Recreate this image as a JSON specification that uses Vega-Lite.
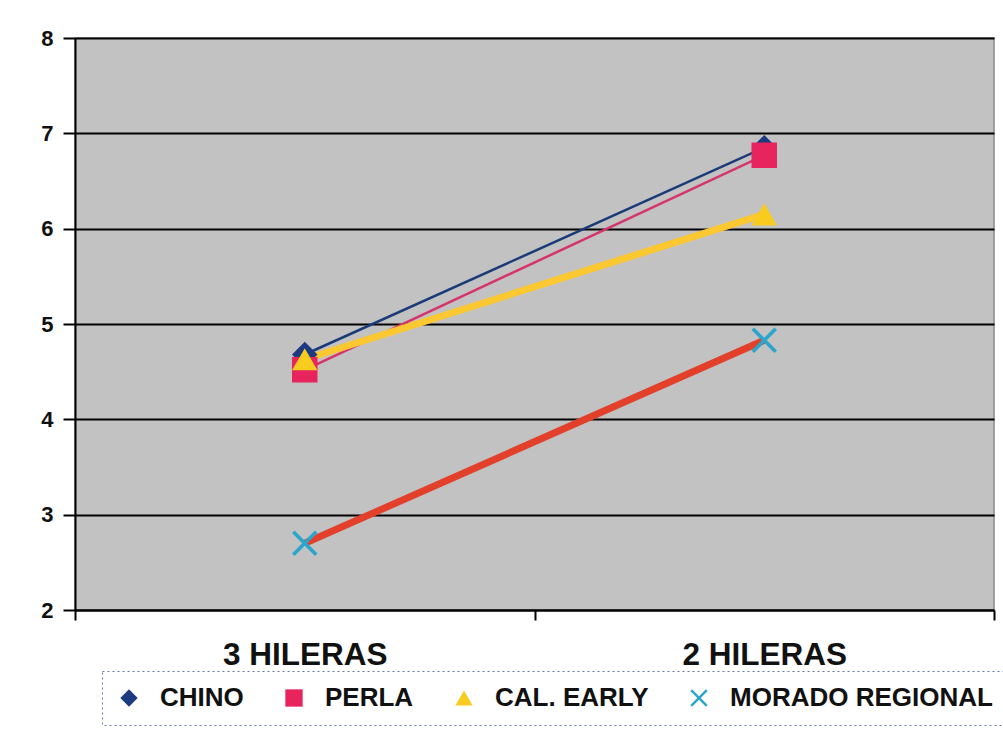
{
  "$schema": "https://vega.github.io/schema/vega-lite/v6.json",
  "width": 919,
  "height": 572,
  "autosize": {"type": "none"},
  "padding": {"left": 75, "top": 38, "right": 9, "bottom": 119},
  "background": "white",
  "config": {
    "view": {"fill": "#c2c2c2", "stroke": "#8a8a8a", "strokeWidth": 1.5},
    "font": "Liberation Sans",
    "legend": {"strokeDash": [2, 3], "symbolStrokeWidth": 0}
  },
  "data": {
    "values": [
      {"serie": "CHINO", "hileras": "3 HILERAS", "valor": 4.68},
      {"serie": "CHINO", "hileras": "2 HILERAS", "valor": 6.85},
      {"serie": "PERLA", "hileras": "3 HILERAS", "valor": 4.52},
      {"serie": "PERLA", "hileras": "2 HILERAS", "valor": 6.77},
      {"serie": "CAL. EARLY", "hileras": "3 HILERAS", "valor": 4.63},
      {"serie": "CAL. EARLY", "hileras": "2 HILERAS", "valor": 6.15},
      {"serie": "MORADO REGIONAL", "hileras": "3 HILERAS", "valor": 2.7},
      {"serie": "MORADO REGIONAL", "hileras": "2 HILERAS", "valor": 4.83}
    ]
  },
  "encoding": {
    "x": {
      "field": "hileras",
      "type": "nominal",
      "sort": ["3 HILERAS", "2 HILERAS"],
      "title": null,
      "axis": {
        "labelAngle": 0,
        "labelFontSize": 31.5,
        "labelFontWeight": "bold",
        "labelColor": "#111111",
        "labelPadding": 19,
        "tickSize": 10,
        "tickBand": "extent",
        "tickColor": "black",
        "tickWidth": 2,
        "domainColor": "black",
        "domainWidth": 2,
        "grid": false
      }
    },
    "y": {
      "field": "valor",
      "type": "quantitative",
      "scale": {"domain": [2, 8], "nice": false},
      "title": null,
      "axis": {
        "values": [2, 3, 4, 5, 6, 7, 8],
        "labelFontSize": 22,
        "labelFontWeight": "bold",
        "labelColor": "#111111",
        "labelPadding": 10,
        "tickSize": 12,
        "tickColor": "black",
        "tickWidth": 2,
        "domainColor": "black",
        "domainWidth": 2,
        "grid": true,
        "gridColor": "black",
        "gridWidth": 2
      }
    }
  },
  "layer": [
    {
      "transform": [{"filter": {"field": "serie", "oneOf": ["CHINO", "PERLA"]}}],
      "mark": {"type": "line", "strokeWidth": 2.5},
      "encoding": {
        "stroke": {
          "field": "serie",
          "type": "nominal",
          "scale": {
            "domain": ["CHINO", "PERLA", "CAL. EARLY", "MORADO REGIONAL"],
            "range": ["#1a3a78", "#d6336b", "#fbc832", "#e2402a"]
          },
          "legend": {
            "title": null,
            "orient": "none",
            "legendX": 27,
            "legendY": 633,
            "direction": "horizontal",
            "labelFontSize": 26,
            "labelFontWeight": "bold",
            "labelColor": "#111111",
            "labelLimit": 400,
            "labelOffset": 18,
            "symbolSize": 300,
            "columnPadding": 37,
            "padding": 14,
            "strokeColor": "#6677aa"
          }
        }
      }
    },
    {
      "transform": [{"filter": {"field": "serie", "oneOf": ["CAL. EARLY", "MORADO REGIONAL"]}}],
      "mark": {"type": "line", "strokeWidth": 7},
      "encoding": {
        "stroke": {
          "field": "serie",
          "type": "nominal"
        }
      }
    },
    {
      "mark": {"type": "point", "filled": true, "size": 650, "opacity": 1, "strokeWidth": 0},
      "encoding": {
        "fill": {
          "field": "serie",
          "type": "nominal",
          "scale": {
            "domain": ["CHINO", "PERLA", "CAL. EARLY", "MORADO REGIONAL"],
            "range": ["#1c3a80", "#e8245e", "#f7cc1f", "#2aa6cc"]
          },
          "legend": {
            "title": null,
            "orient": "none",
            "legendX": 27,
            "legendY": 633,
            "direction": "horizontal",
            "labelFontSize": 26,
            "labelFontWeight": "bold",
            "labelColor": "#111111",
            "labelLimit": 400,
            "labelOffset": 18,
            "symbolSize": 300,
            "columnPadding": 37,
            "padding": 14,
            "strokeColor": "#6677aa"
          }
        },
        "shape": {
          "field": "serie",
          "type": "nominal",
          "scale": {
            "domain": ["CHINO", "PERLA", "CAL. EARLY", "MORADO REGIONAL"],
            "range": ["diamond", "square", "triangle-up", "M-1,-0.8L-0.8,-1L0,-0.2L0.8,-1L1,-0.8L0.2,0L1,0.8L0.8,1L0,0.2L-0.8,1L-1,0.8L-0.2,0Z"]
          },
          "legend": {
            "title": null,
            "orient": "none",
            "legendX": 27,
            "legendY": 633,
            "direction": "horizontal",
            "labelFontSize": 26,
            "labelFontWeight": "bold",
            "labelColor": "#111111",
            "labelLimit": 400,
            "labelOffset": 18,
            "symbolSize": 300,
            "columnPadding": 37,
            "padding": 14,
            "strokeColor": "#6677aa"
          }
        }
      }
    }
  ]
}
